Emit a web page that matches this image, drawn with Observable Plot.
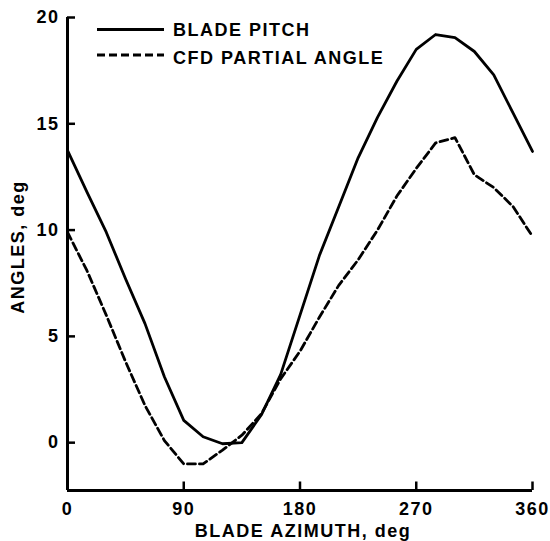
<!DOCTYPE html>
<html>
<head>
<meta charset="utf-8">
<script src="https://cdn.jsdelivr.net/npm/d3@7"></script>
<script src="https://cdn.jsdelivr.net/npm/@observablehq/plot@0.6"></script>
<style>
  html, body { margin: 0; padding: 0; background: #fff; }
  #chart svg { display: block; }
</style>
</head>
<body>
<div id="chart"></div>
<script>
// Blade azimuth (deg), sampled every 15 deg
const azimuth = [0, 15, 30, 45, 60, 75, 90, 105, 120, 135, 150, 165, 180, 195, 210, 225, 240, 255, 270, 285, 300, 315, 330, 345, 360];
// Blade pitch (deg) - solid
const bladePitch = [13.75, 11.8, 9.9, 7.7, 5.6, 3.1, 1.05, 0.28, -0.05, 0.0, 1.3, 3.2, 6.0, 8.8, 11.1, 13.4, 15.3, 17.0, 18.5, 19.2, 19.05, 18.4, 17.3, 15.5, 13.7];
// CFD partial angle (deg) - dashed
const cfdPartial = [9.9, 8.1, 6.0, 3.8, 1.75, 0.1, -1.0, -1.0, -0.35, 0.35, 1.35, 3.0, 4.3, 5.9, 7.4, 8.6, 10.0, 11.6, 12.9, 14.1, 14.35, 12.6, 12.0, 11.1, 9.7];

const xTicks = [0, 90, 180, 270, 360];
const yTicks = [0, 5, 10, 15, 20];
const xDomain = [0, 360];
const yDomain = [-2.25, 20];

const seriesNames = ["BLADE PITCH", "CFD PARTIAL ANGLE"];
const seriesDash = [null, "8,4"];

const rows = azimuth.flatMap((a, i) => [
  {az: a, v: bladePitch[i], s: seriesNames[0]},
  {az: a, v: cfdPartial[i], s: seriesNames[1]}
]);

const font = "'Liberation Sans', Arial, Helvetica, sans-serif";

function legend(index, scales, values, dimensions) {
  const g = d3.create("svg:g")
    .attr("font-family", font)
    .attr("font-weight", "bold")
    .attr("font-size", 18)
    .attr("text-anchor", "start");
  const x0 = dimensions.marginLeft + 30;
  const x1 = dimensions.marginLeft + 97;
  seriesNames.forEach((name, i) => {
    const yLine = dimensions.marginTop + 12.5 + i * 25.5;
    g.append("line")
      .attr("x1", x0).attr("x2", x1)
      .attr("y1", yLine).attr("y2", yLine)
      .attr("stroke", "#000")
      .attr("stroke-width", 2.8)
      .attr("stroke-dasharray", seriesDash[i]);
    g.append("text")
      .attr("x", x1 + 9)
      .attr("y", yLine + 6.5 + i * 2)
      .attr("text-anchor", "start")
      .attr("fill", "#000")
      .text(name);
  });
  return g.node();
}

const chart = Plot.plot({
  width: 550,
  height: 541,
  marginLeft: 67,
  marginRight: 18,
  marginTop: 17,
  marginBottom: 51,
  style: {fontFamily: font, fontSize: "18px", fontWeight: "bold", background: "#fff", color: "#000", letterSpacing: "1.5px"},
  x: {domain: xDomain, axis: null},
  y: {domain: yDomain, axis: null},
  marks: [
    // axis lines
    Plot.ruleX([xDomain[0]], {y1: yDomain[0], y2: yDomain[1], stroke: "#000", strokeWidth: 3}),
    Plot.ruleY([yDomain[0]], {x1: xDomain[0], x2: xDomain[1], stroke: "#000", strokeWidth: 3}),
    // inward ticks
    Plot.ruleY(yTicks, {x1: xDomain[0], x2: xDomain[0] + 6.2, stroke: "#000", strokeWidth: 2.5}),
    Plot.ruleX(xTicks.filter(d => d > xDomain[0]), {y1: yDomain[0], y2: yDomain[0] + 0.4, stroke: "#000", strokeWidth: 2.5}),
    // tick labels
    Plot.axisY({ticks: yTicks, tickSize: 0, tickPadding: 8, fontSize: 18, fontWeight: "bold", label: null}),
    Plot.axisX({ticks: xTicks, tickSize: 0, tickPadding: 12, fontSize: 18, fontWeight: "bold", label: null}),
    // axis titles
    Plot.text(["BLADE AZIMUTH, deg"], {frameAnchor: "bottom", lineAnchor: "middle", textAnchor: "middle", dy: 40.5, dx: 3, fontSize: 18, fontWeight: "bold"}),
    Plot.text(["ANGLES, deg"], {frameAnchor: "left", lineAnchor: "middle", textAnchor: "middle", rotate: -90, dx: -49, dy: -7, fontSize: 18, fontWeight: "bold"}),
    // data lines
    Plot.line(rows.filter(d => d.s === seriesNames[0]), {x: "az", y: "v", stroke: "#000", strokeWidth: 2.8}),
    Plot.line(rows.filter(d => d.s === seriesNames[1]), {x: "az", y: "v", stroke: "#000", strokeWidth: 2.8, strokeDasharray: seriesDash[1]}),
    legend
  ]
});

document.getElementById("chart").appendChild(chart);
</script>
</body>
</html>
